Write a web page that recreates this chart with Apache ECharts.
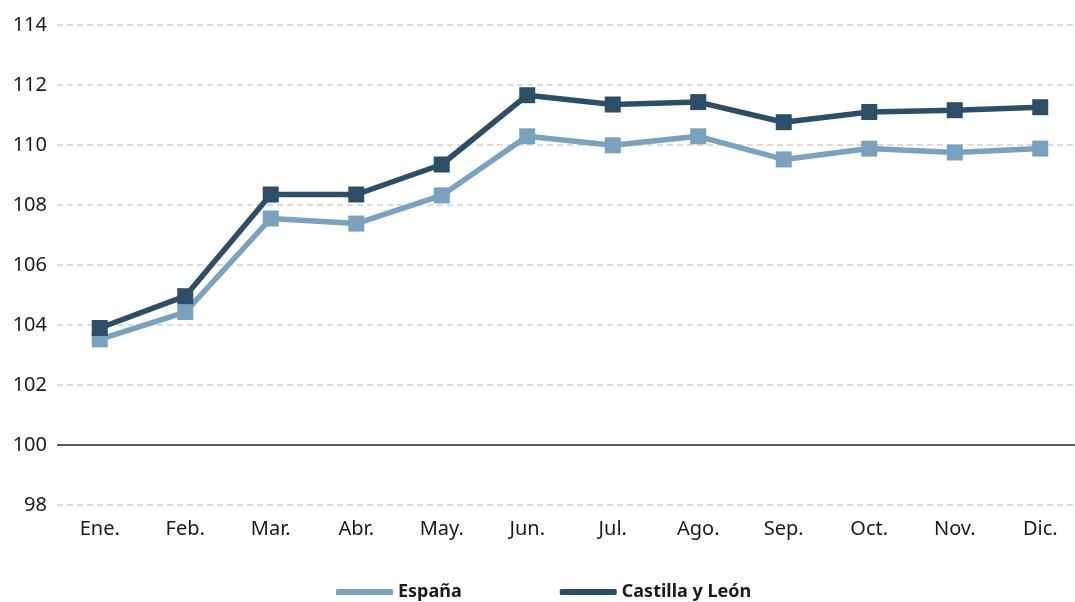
<!DOCTYPE html>
<html>
<head>
<meta charset="utf-8">
<script src="https://cdn.jsdelivr.net/npm/echarts@6/dist/echarts.min.js"></script>
<style>
  html, body { margin: 0; padding: 0; background: #fff; }
  #main { width: 1075px; height: 602px; }
</style>
</head>
<body>
<div id="main"></div>
<script>
// data
var months = ['Ene.', 'Feb.', 'Mar.', 'Abr.', 'May.', 'Jun.', 'Jul.', 'Ago.', 'Sep.', 'Oct.', 'Nov.', 'Dic.'];
var espana = [103.52, 104.43, 107.55, 107.38, 108.32, 110.29, 109.99, 110.29, 109.52, 109.88, 109.75, 109.88];
var castilla = [103.9, 104.96, 108.35, 108.35, 109.35, 111.66, 111.35, 111.43, 110.76, 111.1, 111.16, 111.26];
var baseLine = 100;

var chartDom = document.getElementById('main');
var myChart = echarts.init(chartDom);
var font = '"Noto Sans", sans-serif';

var option = {
  backgroundColor: '#ffffff',
  animation: false,
  textStyle: { fontFamily: font },
  // plot runs a little past the right edge, like the original
  grid: { left: 57, width: 1026, top: 25, bottom: 97, outerBoundsMode: 'none' },
  legend: {
    left: 331,
    top: 578,
    itemWidth: 57,
    itemHeight: 6,
    itemGap: 98,
    icon: 'roundRect',
    textStyle: { fontFamily: font, fontSize: 18, fontWeight: 'bold', color: '#1a1a1a' },
    data: ['España', 'Castilla y León']
  },
  xAxis: {
    type: 'category',
    data: months,
    boundaryGap: true,
    axisLine: { show: false },
    axisTick: { show: false },
    axisLabel: { color: '#1a1a1a', fontSize: 20, margin: 14, fontFamily: font }
  },
  yAxis: {
    type: 'value',
    min: 98,
    max: 114,
    interval: 2,
    axisLine: { show: false },
    axisTick: { show: false },
    axisLabel: { color: '#1a1a1a', fontSize: 20, margin: 10, fontFamily: font },
    splitLine: { lineStyle: { color: '#cfcfcf', width: 1.5, type: [6, 4] } }
  },
  series: [
    {
      name: 'España',
      type: 'line',
      data: espana,
      symbol: 'rect',
      symbolSize: 16,
      color: '#7aa1bd',
      lineStyle: { width: 5.5, color: '#7aa1bd' },
      itemStyle: { color: '#7aa1bd' },
      markLine: {
        silent: true,
        symbol: 'none',
        label: { show: false },
        lineStyle: { color: '#5a5a5a', width: 2, type: 'solid' },
        data: [{ yAxis: baseLine }]
      },
      z: 3
    },
    {
      name: 'Castilla y León',
      type: 'line',
      data: castilla,
      symbol: 'rect',
      symbolSize: 16,
      color: '#2d4e67',
      lineStyle: { width: 5.5, color: '#2d4e67' },
      itemStyle: { color: '#2d4e67' },
      z: 4
    }
  ]
};
myChart.setOption(option);
window.addEventListener('resize', function () {
  myChart.resize();
});
</script>
</body>
</html>
